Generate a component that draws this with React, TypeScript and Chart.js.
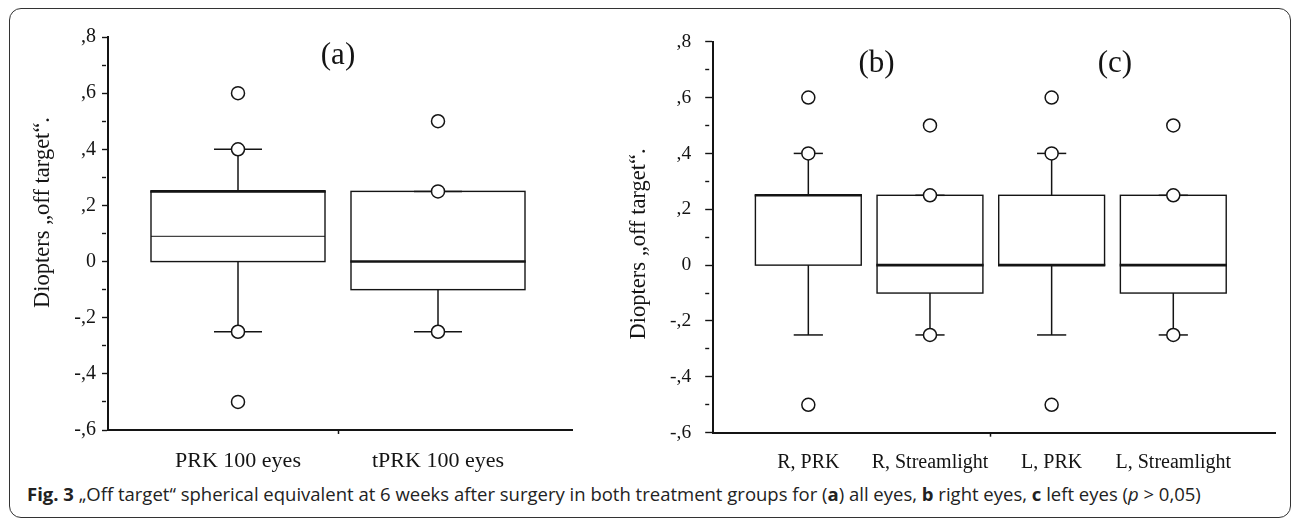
import React, { useEffect, useRef } from "react";
import { Chart, registerables } from "chart.js";

Chart.register(...registerables);

// ---------- data ----------
const panelACategories = ["PRK 100 eyes", "tPRK 100 eyes"];
const panelAQ1 = [0, -0.1];
const panelAQ3 = [0.25, 0.25];
const panelAMedian = [0.25, 0];
const panelAInnerLine = [0.09, null];
const panelAWhiskerLow = [-0.25, -0.25];
const panelAWhiskerHigh = [0.4, 0.25];
const panelAOutliers = [
  [0.6, 0.4, -0.25, -0.5],
  [0.5, 0.25, -0.25],
];
const panelATitles = ["(a)"];
const panelATitlePos = [1.5];

const panelBCategories = ["R, PRK", "R, Streamlight", "L, PRK", "L, Streamlight"];
const panelBQ1 = [0, -0.1, 0, -0.1];
const panelBQ3 = [0.25, 0.25, 0.25, 0.25];
const panelBMedian = [0.25, 0, 0, 0];
const panelBInnerLine = [null, null, null, null];
const panelBWhiskerLow = [-0.25, -0.25, -0.25, -0.25];
const panelBWhiskerHigh = [0.4, 0.25, 0.4, 0.25];
const panelBOutliers = [
  [0.6, 0.4, -0.5],
  [0.5, 0.25, -0.25],
  [0.6, 0.4, -0.5],
  [0.5, 0.25, -0.25],
];
const panelBTitles = ["(b)", "(c)"];
const panelBTitlePos = [1.56, 3.52];

const yTickValues = [-0.6, -0.5, -0.4, -0.3, -0.2, -0.1, 0, 0.1, 0.2, 0.3, 0.4, 0.5, 0.6, 0.7, 0.8];
const yTickLabels = ["-,6", "", "-,4", "", "-,2", "", "0", "", ",2", "", ",4", "", ",6", "", ",8"];
const yAxisTitle = "Diopters \u201Eoff target\u201C.";

const INK = "#141414";
const SERIF = "'Liberation Serif', 'Times New Roman', serif";
const BOX_HALF = 0.435;
const CAP_HALF = 0.12;

type PanelCfg = {
  categories: string[];
  q1: number[];
  q3: number[];
  median: number[];
  inner: (number | null)[];
  wLow: number[];
  wHigh: number[];
  outliers: number[][];
  titles: string[];
  titlePos: number[];
  xMin: number;
  xMax: number;
  sepValue: number;
  width: number;
  height: number;
  padTop: number;
  padRight: number;
  yAxisWidth: number;
  xAxisHeight: number;
  majorTick: number;
  yTickPad: number;
  xTickPad: number;
  tickFont: number;
  xFont: number;
  yTitleDx: number;
  yTitleDy: number;
  titleDy: number;
};

function line(ctx: CanvasRenderingContext2D, x1: number, y1: number, x2: number, y2: number) {
  ctx.beginPath();
  ctx.moveTo(x1, y1);
  ctx.lineTo(x2, y2);
  ctx.stroke();
}

function Panel({ cfg }: { cfg: PanelCfg }) {
  const ref = useRef<HTMLCanvasElement | null>(null);
  useEffect(() => {
    if (!ref.current) return;
    const xTicks: number[] = cfg.categories.map((_c, i) => i + 1);
    const xLabels: string[] = cfg.categories.slice();
    const sepIdx = xTicks.findIndex((v) => v > cfg.sepValue);
    xTicks.splice(sepIdx, 0, cfg.sepValue);
    xLabels.splice(sepIdx, 0, "");

    const points = cfg.outliers.flatMap((arr, i) => arr.map((v) => ({ x: i + 1, y: v })));

    const boxPlugin = {
      id: "boxes",
      beforeDatasetsDraw(chart: any) {
        const { ctx } = chart;
        const xs = chart.scales.x;
        const ys = chart.scales.y;
        ctx.save();
        ctx.strokeStyle = INK;
        ctx.lineCap = "butt";
        cfg.q1.forEach((q1, i) => {
          const p = i + 1;
          const xl = xs.getPixelForValue(p - BOX_HALF);
          const xr = xs.getPixelForValue(p + BOX_HALF);
          const xc = xs.getPixelForValue(p);
          const cl = xs.getPixelForValue(p - CAP_HALF);
          const cr = xs.getPixelForValue(p + CAP_HALF);
          const y1 = ys.getPixelForValue(q1);
          const y3 = ys.getPixelForValue(cfg.q3[i]);
          const ym = ys.getPixelForValue(cfg.median[i]);
          const ylo = ys.getPixelForValue(cfg.wLow[i]);
          const yhi = ys.getPixelForValue(cfg.wHigh[i]);
          ctx.fillStyle = "#ffffff";
          ctx.fillRect(xl, y3, xr - xl, y1 - y3);
          ctx.lineWidth = 1.4;
          ctx.strokeRect(xl, y3, xr - xl, y1 - y3);
          ctx.lineWidth = 1.5;
          line(ctx, xc, y3, xc, yhi);
          line(ctx, cl, yhi, cr, yhi);
          line(ctx, xc, y1, xc, ylo);
          line(ctx, cl, ylo, cr, ylo);
          ctx.lineWidth = 2.6;
          line(ctx, xl - 0.7, ym, xr + 0.7, ym);
          const inner = cfg.inner[i];
          if (inner !== null && inner !== undefined) {
            ctx.lineWidth = 1;
            const yi = ys.getPixelForValue(inner);
            line(ctx, xl, yi, xr, yi);
          }
        });
        ctx.restore();
      },
      afterDraw(chart: any) {
        const { ctx, chartArea } = chart;
        const xs = chart.scales.x;
        ctx.save();
        ctx.fillStyle = INK;
        ctx.textAlign = "center";
        ctx.textBaseline = "alphabetic";
        ctx.font = `31px ${SERIF}`;
        cfg.titles.forEach((t, i) => {
          ctx.fillText(t, xs.getPixelForValue(cfg.titlePos[i]), chartArea.top + cfg.titleDy);
        });
        ctx.translate(chartArea.left + cfg.yTitleDx, chartArea.top + cfg.yTitleDy);
        ctx.rotate(-Math.PI / 2);
        ctx.font = `22.5px ${SERIF}`;
        ctx.fillText(yAxisTitle, 0, 0);
        ctx.restore();
      },
    };

    const chart = new Chart(ref.current, {
      type: "scatter",
      data: {
        datasets: [
          {
            data: points,
            pointRadius: 6.5,
            pointHoverRadius: 6.5,
            pointBorderWidth: 1.5,
            pointBorderColor: INK,
            pointBackgroundColor: "#ffffff",
            showLine: false,
          } as any,
        ],
      },
      options: {
        responsive: false,
        animation: false,
        events: [],
        layout: { padding: { top: cfg.padTop, right: cfg.padRight, left: 0, bottom: 0 } },
        plugins: {
          legend: { display: false },
          tooltip: { enabled: false },
          title: { display: false },
        },
        scales: {
          x: {
            type: "linear",
            min: cfg.xMin,
            max: cfg.xMax,
            afterBuildTicks: (s: any) => {
              s.ticks = xTicks.map((v) => ({ value: v }));
            },
            afterFit: (s: any) => {
              s.height = cfg.xAxisHeight;
            },
            ticks: {
              autoSkip: false,
              maxRotation: 0,
              minRotation: 0,
              padding: cfg.xTickPad,
              color: INK,
              font: { family: SERIF, size: cfg.xFont },
              callback: (_v: any, i: number) => xLabels[i],
            },
            grid: {
              drawOnChartArea: false,
              drawTicks: true,
              tickLength: 4,
              tickWidth: 1.5,
              tickColor: (c: any) => (c.index === sepIdx ? INK : "rgba(0,0,0,0)"),
            },
            border: { display: true, color: INK, width: 2 },
          },
          y: {
            type: "linear",
            min: -0.6,
            max: 0.8,
            afterBuildTicks: (s: any) => {
              s.ticks = yTickValues.map((v) => ({ value: v }));
            },
            afterFit: (s: any) => {
              s.width = cfg.yAxisWidth;
            },
            ticks: {
              autoSkip: false,
              padding: cfg.yTickPad,
              color: INK,
              font: { family: SERIF, size: cfg.tickFont },
              callback: (_v: any, i: number) => yTickLabels[i],
            },
            grid: {
              drawOnChartArea: false,
              drawTicks: true,
              tickLength: cfg.majorTick,
              tickWidth: 1.4,
              tickColor: INK,
              tickBorderDash: (c: any) => (yTickLabels[c.index] === "" ? [4, 60] : []),
            },
            border: { display: true, color: INK, width: 2 },
          },
        },
      } as any,
      plugins: [boxPlugin],
    });
    return () => chart.destroy();
  }, [cfg]);
  return <canvas ref={ref} width={cfg.width} height={cfg.height} style={{ display: "block" }} />;
}

const cfgA: PanelCfg = {
  categories: panelACategories,
  q1: panelAQ1,
  q3: panelAQ3,
  median: panelAMedian,
  inner: panelAInnerLine,
  wLow: panelAWhiskerLow,
  wHigh: panelAWhiskerHigh,
  outliers: panelAOutliers,
  titles: panelATitles,
  titlePos: panelATitlePos,
  xMin: 0.35,
  xMax: 2.67,
  sepValue: 1.5,
  width: 580,
  height: 462,
  padTop: 21,
  padRight: 28,
  yAxisWidth: 88,
  xAxisHeight: 48,
  majorTick: 6,
  yTickPad: 6,
  xTickPad: 14,
  tickFont: 20,
  xFont: 22,
  yTitleDx: -59.5,
  yTitleDy: 175.5,
  titleDy: 26.5,
};

const cfgB: PanelCfg = {
  categories: panelBCategories,
  q1: panelBQ1,
  q3: panelBQ3,
  median: panelBMedian,
  inner: panelBInnerLine,
  wLow: panelBWhiskerLow,
  wHigh: panelBWhiskerHigh,
  outliers: panelBOutliers,
  titles: panelBTitles,
  titlePos: panelBTitlePos,
  xMin: 0.214,
  xMax: 4.836,
  sepValue: 2.5,
  width: 673,
  height: 462,
  padTop: 17.3,
  padRight: 10,
  yAxisWidth: 100.7,
  xAxisHeight: 45.3,
  majorTick: 7.5,
  yTickPad: 14,
  xTickPad: 14,
  tickFont: 19.5,
  xFont: 20,
  yTitleDx: -67.7,
  yTitleDy: 202.2,
  titleDy: 30.2,
};

export default function App() {
  return (
    <div style={{ position: "absolute", left: 0, top: 0, width: 1292, height: 519, background: "#fff" }}>
      <div
        style={{
          position: "absolute",
          left: 9,
          top: 8,
          width: 1282,
          height: 510,
          boxSizing: "border-box",
          border: "1.5px solid #333",
          borderRadius: 12,
        }}
      />
      <div style={{ position: "absolute", left: 20, top: 16 }}>
        <Panel cfg={cfgA} />
      </div>
      <div style={{ position: "absolute", left: 612, top: 16 }}>
        <Panel cfg={cfgB} />
      </div>
      <div
        style={{
          position: "absolute",
          left: 27,
          top: 481,
          fontFamily: "'Open Sans', sans-serif",
          fontSize: 18.5,
          color: "#222",
          whiteSpace: "nowrap",
          lineHeight: "normal",
        }}
      >
        <b>Fig. 3</b> {"\u201EOff target\u201C spherical equivalent at 6 weeks after surgery in both treatment groups for ("}
        <b>a</b>
        {") all eyes, "}
        <b>b</b>
        {" right eyes, "}
        <b>c</b>
        {" left eyes ("}
        <i>p</i>
        {" > 0,05)"}
      </div>
    </div>
  );
}
